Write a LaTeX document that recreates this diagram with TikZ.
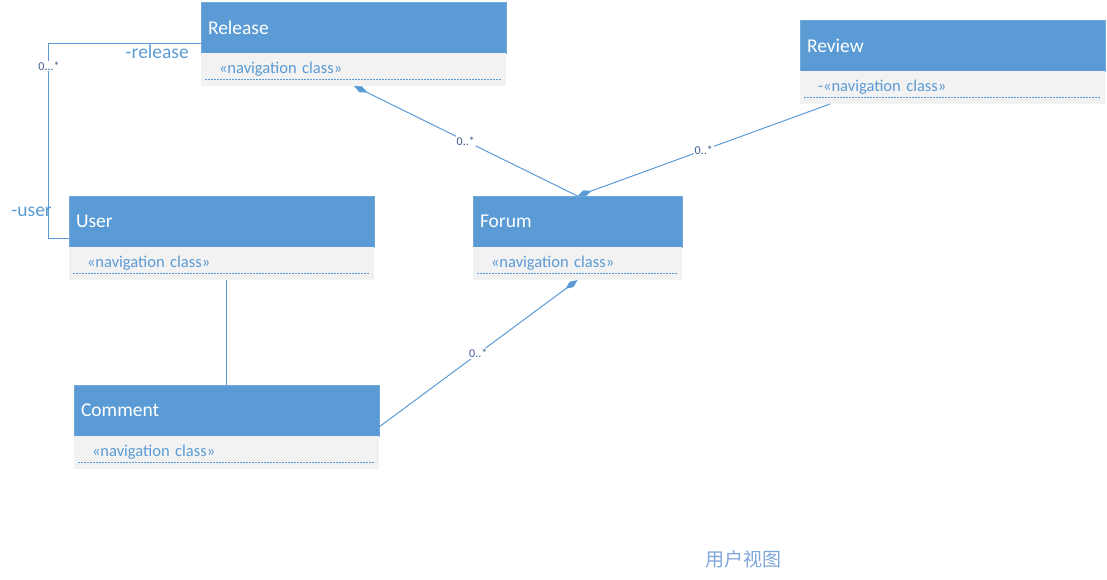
\documentclass[tikz,border=0pt]{standalone}
\usepackage{fontspec}
\setmainfont{Carlito}
\newfontfamily\cjkfont{Noto Sans CJK SC}
\usetikzlibrary{arrows.meta}
\definecolor{hdrblue}{HTML}{5B9BD5}
\definecolor{bodygray}{HTML}{F2F2F2}
\definecolor{linkblue}{HTML}{5B9BD5}
\definecolor{multblue}{HTML}{3A5C8A}
\definecolor{titleblue}{HTML}{7EA6D8}

\tikzset{
  hdr/.style={anchor=north west, fill=hdrblue, draw=hdrblue!85!white, line width=0.6pt,
    outer sep=0pt, text=white, font=\fontsize{19.5}{23}\selectfont, align=left,
    inner xsep=7pt, inner ysep=0pt, minimum height=51pt},
  bdy/.style={anchor=north west, fill=bodygray, draw=none, outer sep=0pt,
    text=linkblue, font=\fontsize{16.5}{20}\selectfont, align=left,
    inner xsep=18pt, inner ysep=0pt, minimum height=33pt},
  sep/.style={draw=linkblue, line width=1pt, dash pattern=on 2pt off 1pt},
  conn/.style={draw=linkblue, line width=1pt},
  comp/.style={conn, {Diamond[length=15pt,width=6.5pt]}-},
  mult/.style={fill=white, text=multblue, inner sep=1pt, font=\fontsize{12}{14}\selectfont},
  role/.style={text=linkblue, inner sep=0pt, font=\fontsize{19.5}{23}\selectfont},
}

% class box: #1 name, #2 x, #3 y, #4 width, #5 title, #6 stereotype line
\newcommand\umlclass[6]{%
  \pgfmathsetmacro\hdrw{#4-14}%
  \pgfmathsetmacro\bdyw{#4-36}%
  \node[hdr, text width=\hdrw pt] (#1) at (#2,#3) {#5};
  \node[bdy, text width=\bdyw pt] (#1b) at (#1.south west) {#6};
  \draw[sep] ([xshift=4pt,yshift=6.5pt]#1b.south west) -- ([xshift=-5pt,yshift=6.5pt]#1b.south east);
}

\begin{document}
\begin{tikzpicture}[x=1pt,y=-1pt]
  \useasboundingbox (0,0) rectangle (1107,580);

  \umlclass{release}{201}{2}{305}{Release}{«navigation class»}
  \umlclass{review}{800}{20}{305}{Review}{-«navigation class»}
  \umlclass{user}{69}{196}{305}{User}{«navigation class»}
  \umlclass{forum}{473}{196}{209}{Forum}{«navigation class»}
  \umlclass{comment}{74}{385}{305}{Comment}{«navigation class»}

  % Release -- User association
  \draw[conn] ([yshift=-41.5pt]release.north west)
      -| ([xshift=-20.5pt,yshift=8.5pt]user.south west)
      -- ([yshift=8.5pt]user.south west);
  \node[role, anchor=east] (relrole) at (189,52) {-release};
  \node[mult] (relmult) at (49,66) {0...*};
  \node[role, anchor=east] (userrole) at (52,212) {-user};

  % compositions around Forum
  \draw[comp] ([xshift=153pt]releaseb.south west) -- (forum.north)
      node[mult, pos=0.5] (m1) {0..*};
  \draw[comp] (forum.north) -- ([xshift=30pt]reviewb.south west)
      node[mult, pos=0.5] (m2) {0..*};
  \draw[comp] (forumb.south) -- ([yshift=9pt]comment.south east)
      node[mult, pos=0.5] (m3) {0..*};

  % User -- Comment
  \draw[conn] (userb.south -| comment.north) -- (comment.north);

  \node[text=titleblue, font=\cjkfont\fontsize{19}{22}\selectfont] (title) at (743,559) {用户视图};
\end{tikzpicture}
\end{document}
